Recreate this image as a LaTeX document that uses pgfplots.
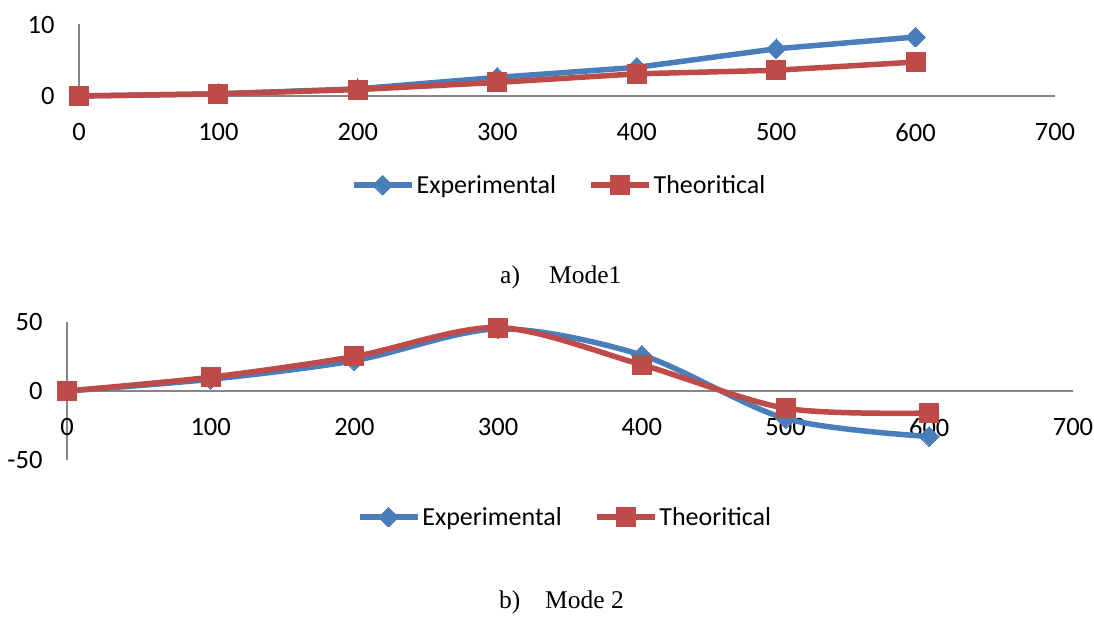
\documentclass[border=0pt]{standalone}
\usepackage{pgfplots}
\pgfplotsset{compat=1.18}
\usepackage{fontspec}
\setmainfont{Carlito}
\newfontfamily\timesfont{Liberation Serif}
\definecolor{expblue}{HTML}{4A7EBB}
\definecolor{thred}{HTML}{BE4B48}
\definecolor{axgray}{HTML}{868686}

\pgfplotsset{
  mystyle/.style={
    scale only axis,
    xmin=0, xmax=700,
    xtick={0,100,...,700},
    xticklabels={0,100,200,300,400,500,600,700},
    axis x line*=middle,
    axis y line*=left,
    axis line style={draw=axgray, line width=1.2pt},
    major tick length=0pt,
    tick style={draw=none},
    hide obscured x ticks=false,
    hide obscured y ticks=false,
    xticklabel style={yshift=-24pt},
    yticklabel style={xshift=-21pt},
    ticklabel style={font=\fontsize{26.5}{30}\selectfont},
    legend columns=2,
    legend style={draw=none, fill=none, font=\fontsize{26}{30}\selectfont,
      /tikz/every even column/.append style={column sep=30pt},
      inner sep=0pt, row sep=0pt},
    legend cell align=left,
    legend image code/.code={\draw[mark repeat=2,mark phase=2,##1] plot coordinates {(0pt,0pt) (29pt,0pt) (58pt,0pt)};},
    clip=false,
  },
  expstyle/.style={color=expblue, line width=5.5pt, mark=square*, mark size=7pt,
     mark options={rotate=45, fill=expblue, draw=expblue, line width=0pt}},
  thstyle/.style={color=thred, line width=5.5pt, mark=square*, mark size=9.5pt,
     mark options={fill=thred, draw=thred, line width=0pt}},
}

\begin{document}
\begin{tikzpicture}[x=1pt,y=1pt]
\useasboundingbox (0,0) rectangle (1094,618);

% ---------- Mode 1 ----------
\begin{axis}[mystyle,
  at={(79pt,522pt)}, anchor=south west,
  width=976pt, height=71.5pt,
  ymin=0, ymax=10,
  ytick={0,10}, yticklabels={0,10},
  legend style={at={(0.492,-1.245)}, anchor=center},
]
\addplot[expstyle] coordinates {(0,0) (100,0.3) (200,1.0) (300,2.6) (400,4.0) (500,6.6) (600,8.25)};
\addlegendentry{Experimental}
\addplot[thstyle] coordinates {(0,0) (100,0.3) (200,0.9) (300,1.9) (400,3.1) (500,3.6) (600,4.75)};
\addlegendentry{Theoritical}
\end{axis}

% ---------- Mode 2 ----------
\begin{axis}[mystyle,
  at={(67pt,158pt)}, anchor=south west,
  width=1006pt, height=138pt,
  ymin=-50, ymax=50,
  ytick={-50,0,50}, yticklabels={-50,0,50},
  legend style={at={(0.495,-0.413)}, anchor=center},
]
\addplot[expstyle, smooth] coordinates {(0,0) (100,8.5) (200,22) (300,45) (400,26) (500,-20) (600,-33)};
\addlegendentry{Experimental}
\addplot[thstyle, smooth] coordinates {(0,0) (100,10) (200,25) (300,46) (400,19) (500,-12.5) (600,-16)};
\addlegendentry{Theoritical}
\end{axis}

% captions
\node[anchor=base west, inner sep=0pt, font=\timesfont\fontsize{25.5}{30}\selectfont] at (500,334) {a)};
\node[anchor=base west, inner sep=0pt, font=\timesfont\fontsize{25.5}{30}\selectfont] at (549,334) {Mode1};
\node[anchor=base west, inner sep=0pt, font=\timesfont\fontsize{25.5}{30}\selectfont] at (499,10) {b)};
\node[anchor=base west, inner sep=0pt, font=\timesfont\fontsize{25.5}{30}\selectfont] at (545,10) {Mode 2};
\end{tikzpicture}
\end{document}
